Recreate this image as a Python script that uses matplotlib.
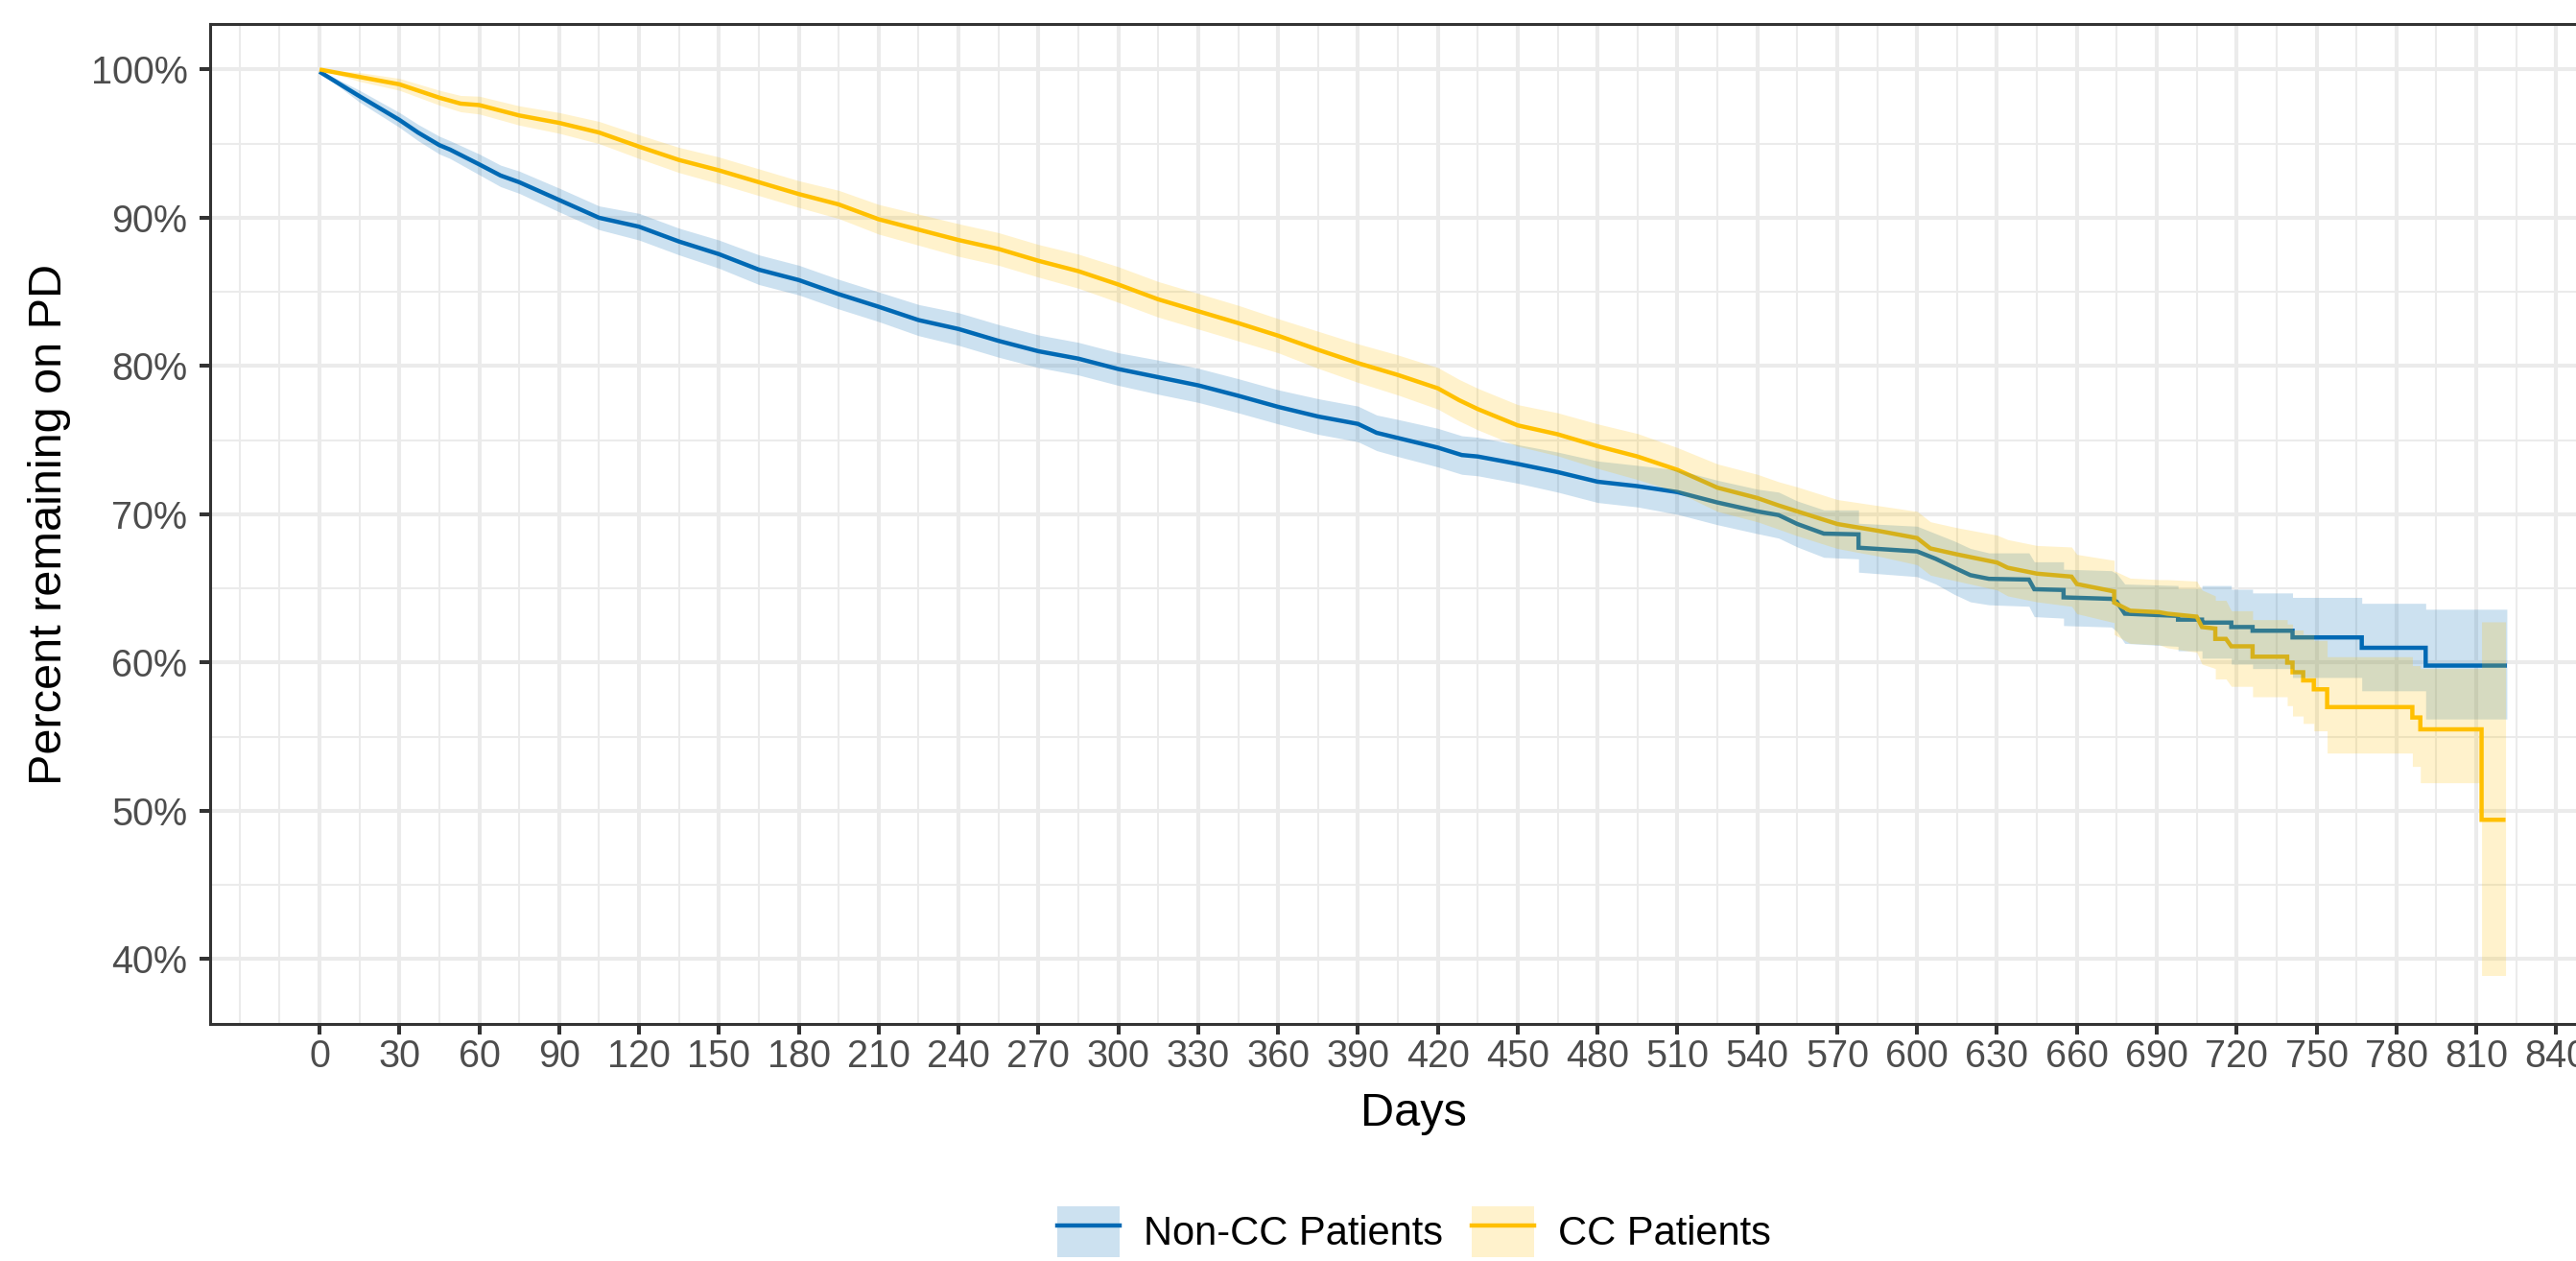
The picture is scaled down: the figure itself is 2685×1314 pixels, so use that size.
import matplotlib
matplotlib.use('Agg')
import matplotlib.pyplot as plt
from matplotlib.patches import Patch
from matplotlib.lines import Line2D
from matplotlib.ticker import FixedLocator, FuncFormatter

plt.rcParams['font.family'] = ['Liberation Sans', 'DejaVu Sans']

# ---------------- data ----------------
group_labels = ['Non-CC Patients', 'CC Patients']

noncc_days = [0, 15, 30, 37, 45, 49, 60, 68, 75, 90, 105, 120, 135, 150, 165, 180,
              195, 210, 225, 240, 255, 270, 285, 300, 315, 330, 345, 360, 375, 390,
              397, 405, 420, 429, 435, 450, 465, 480, 495, 510, 525, 540, 548, 555,
              565, 578, 578, 600, 607, 614, 620, 627, 642, 644, 655, 655, 673, 675,
              678, 698, 698, 707, 707, 718, 718, 726, 726, 741, 741, 767, 767, 791,
              791, 821.5]
noncc_surv = [99.85, 98.2, 96.6, 95.75, 94.9, 94.6, 93.6, 92.85, 92.4, 91.2, 90.0, 89.4,
              88.4, 87.55, 86.5, 85.8, 84.85, 84.0, 83.1, 82.5, 81.7, 81.0, 80.5, 79.8,
              79.25, 78.7, 78.0, 77.25, 76.6, 76.1, 75.5, 75.15, 74.5, 74.0, 73.9, 73.4,
              72.85, 72.2, 71.9, 71.5, 70.8, 70.2, 69.95, 69.35, 68.7, 68.65, 67.75,
              67.5, 67.0, 66.4, 65.9, 65.65, 65.6, 64.95, 64.9, 64.4, 64.3, 64.1, 63.3,
              63.15, 62.9, 62.9, 62.7, 62.7, 62.4, 62.4, 62.15, 62.15, 61.7, 61.7, 61.0,
              61.0, 59.8, 59.8]
noncc_lower = [99.85, 97.8, 96.1, 95.2, 94.3, 94.0, 92.9, 92.1, 91.65, 90.4, 89.2, 88.5,
               87.5, 86.6, 85.5, 84.8, 83.85, 83.0, 82.05, 81.4, 80.6, 79.9, 79.4, 78.7,
               78.1, 77.55, 76.85, 76.1, 75.4, 74.9, 74.3, 73.9, 73.2, 72.7, 72.6, 72.1,
               71.5, 70.8, 70.5, 70.0, 69.3, 68.7, 68.4, 67.8, 67.1, 67.0, 66.1, 65.8,
               65.3, 64.6, 64.1, 63.9, 63.8, 63.1, 63.0, 62.5, 62.4, 62.1, 61.3, 61.1,
               60.8, 60.8, 60.3, 60.3, 59.9, 59.9, 59.6, 59.6, 59.0, 59.0, 58.1, 58.1,
               56.2, 56.2]
noncc_upper = [99.95, 98.6, 97.1, 96.3, 95.5, 95.2, 94.3, 93.55, 93.15, 92.0, 90.8, 90.3,
               89.3, 88.5, 87.5, 86.8, 85.85, 85.0, 84.15, 83.6, 82.8, 82.1, 81.6, 80.9,
               80.4, 79.85, 79.15, 78.4, 77.8, 77.3, 76.7, 76.4, 75.8, 75.3, 75.2, 74.7,
               74.2, 73.6, 73.3, 73.0, 72.3, 71.7, 71.5, 70.9, 70.3, 70.3, 69.4, 69.2,
               68.7, 68.2, 67.7, 67.4, 67.4, 66.8, 66.8, 66.3, 66.2, 66.0, 65.3, 65.2,
               65.0, 65.0, 65.2, 65.2, 64.95, 64.95, 64.7, 64.7, 64.4, 64.4, 64.0, 64.0,
               63.6, 63.6]

cc_days = [0, 15, 30, 45, 53, 60, 75, 90, 105, 120, 135, 150, 165, 180, 195, 210, 225,
           240, 255, 270, 285, 300, 315, 330, 345, 360, 375, 390, 405, 420, 428, 435,
           450, 465, 480, 495, 510, 525, 540, 548, 555, 570, 585, 600, 605, 615, 630,
           634, 645, 658, 660, 674, 674, 680, 691, 694, 705, 707, 712, 712, 716, 718,
           726, 726, 739, 739, 741, 741, 745, 745, 749, 749, 754, 754, 786, 786, 789,
           789, 812, 812, 821]
cc_surv = [100, 99.5, 99.0, 98.1, 97.7, 97.6, 96.9, 96.4, 95.75, 94.8, 93.9, 93.2, 92.4,
           91.6, 90.9, 89.9, 89.2, 88.5, 87.9, 87.1, 86.4, 85.5, 84.5, 83.7, 82.9, 82.05,
           81.1, 80.2, 79.4, 78.5, 77.7, 77.1, 76.0, 75.4, 74.6, 73.9, 73.0, 71.8, 71.1,
           70.6, 70.2, 69.35, 68.9, 68.4, 67.7, 67.3, 66.75, 66.4, 66.0, 65.8, 65.3,
           64.8, 64.05, 63.5, 63.4, 63.3, 63.1, 62.4, 62.3, 61.6, 61.6, 61.1, 61.1, 60.4,
           60.4, 60.0, 60.0, 59.35, 59.35, 58.8, 58.8, 58.2, 58.2, 57.0, 57.0, 56.3, 56.3,
           55.5, 55.5, 49.4, 49.4]
cc_lower = [100, 99.2, 98.6, 97.6, 97.15, 97.0, 96.25, 95.7, 95.0, 94.0, 93.05, 92.3,
            91.5, 90.7, 89.95, 88.9, 88.15, 87.4, 86.8, 86.0, 85.25, 84.3, 83.3, 82.5,
            81.7, 80.9, 79.85, 78.9, 78.05, 77.1, 76.3, 75.7, 74.6, 73.95, 73.1, 72.35,
            71.5, 70.2, 69.5, 69.0, 68.55, 67.7, 67.2, 66.6, 65.9, 65.5, 64.9, 64.5, 64.1,
            63.8, 63.3, 62.7, 61.9, 61.3, 61.2, 61.0, 60.7, 59.9, 59.6, 58.9, 58.9, 58.4,
            58.4, 57.7, 57.7, 57.1, 57.1, 56.4, 56.4, 55.9, 55.9, 55.4, 55.4, 53.9, 53.9,
            53.0, 53.0, 51.9, 51.9, 38.9, 38.9]
cc_upper = [100, 99.8, 99.4, 98.6, 98.25, 98.2, 97.55, 97.1, 96.5, 95.6, 94.75, 94.1,
            93.3, 92.5, 91.85, 90.9, 90.25, 89.6, 89.0, 88.2, 87.55, 86.7, 85.7, 84.9,
            84.1, 83.2, 82.35, 81.5, 80.75, 79.9, 79.1, 78.5, 77.4, 76.85, 76.1, 75.45,
            74.5, 73.4, 72.7, 72.2, 71.85, 71.0, 70.6, 70.2, 69.5, 69.1, 68.6, 68.3, 67.9,
            67.8, 67.3, 66.9, 66.2, 65.7, 65.6, 65.6, 65.5, 64.9, 64.5, 64.2, 64.2, 63.5,
            63.5, 62.9, 62.9, 62.6, 62.6, 62.2, 62.2, 61.9, 61.9, 61.5, 61.5, 60.4, 60.4,
            59.8, 59.8, 59.6, 59.6, 62.75, 62.75]

x_breaks = list(range(0, 841, 30))
x_minor = [-30, -15] + list(range(15, 856, 30))
y_breaks = [40, 50, 60, 70, 80, 90, 100]
y_minor = [45, 55, 65, 75, 85, 95]

# ---------------- styling ----------------
BLUE = '#0069B4'
YELLOW = '#FFC000'
GRID = '#EBEBEB'
DARK = '#333333'

W, H = 2685, 1314
fig = plt.figure(figsize=(W / 100, H / 100), dpi=100)
fig.patch.set_facecolor('white')

left, right, top, bottom = 219, 2727, 25, 1067
ax = fig.add_axes([left / W, 1 - bottom / H, (right - left) / W, (bottom - top) / H])

lw = 3.2
ax.plot(noncc_days, noncc_surv, color=BLUE, lw=lw, zorder=3, solid_capstyle='butt', solid_joinstyle='miter')
ax.plot(cc_days, cc_surv, color=YELLOW, lw=lw, zorder=3, solid_capstyle='butt', solid_joinstyle='miter')
ax.fill_between(noncc_days, noncc_lower, noncc_upper, color=BLUE, alpha=0.2, lw=0, zorder=4)
ax.fill_between(cc_days, cc_lower, cc_upper, color=YELLOW, alpha=0.2, lw=0, zorder=4)

ax.set_xlim(-41.1, 862.6)
ax.set_ylim(35.63, 103.07)

ax.xaxis.set_major_locator(FixedLocator(x_breaks))
ax.xaxis.set_minor_locator(FixedLocator(x_minor))
ax.yaxis.set_major_locator(FixedLocator(y_breaks))
ax.yaxis.set_minor_locator(FixedLocator(y_minor))
ax.yaxis.set_major_formatter(FuncFormatter(lambda v, p: f'{int(round(v))}%'))

ax.set_axisbelow(True)
ax.grid(which='major', color=GRID, lw=2.9)
ax.grid(which='minor', color=GRID, lw=1.45)

for s in ax.spines.values():
    s.set_color(DARK)
    s.set_linewidth(2.2)

ax.tick_params(which='major', length=8, width=2.9, color=DARK, labelsize=28.5, labelcolor='#4D4D4D')
ax.tick_params(axis='x', which='major', pad=2.5)
ax.tick_params(axis='y', which='major', pad=9)
ax.tick_params(which='minor', length=0)

fig.text(1473 / W, 1 - 1173 / H, 'Days', ha='center', va='baseline', fontsize=35, color='black')
fig.text(52 / W, 1 - 546 / H, 'Percent remaining on PD', ha='center', va='center',
         rotation=90, fontsize=35, color='black')

handles = [
    (Patch(facecolor=BLUE, alpha=0.2, edgecolor='none'), Line2D([], [], color=BLUE, lw=lw)),
    (Patch(facecolor=YELLOW, alpha=0.2, edgecolor='none'), Line2D([], [], color=YELLOW, lw=lw)),
]
fig.legend(handles=handles, labels=group_labels, loc='upper center',
           bbox_to_anchor=(1474 / W, 1 - 1257 / H), ncol=2, frameon=False, fontsize=30,
           handlelength=1.58, handleheight=1.58, handletextpad=0.6, columnspacing=0.7,
           borderpad=0, borderaxespad=0)

fig.savefig('out.png', dpi=100, facecolor='white')
